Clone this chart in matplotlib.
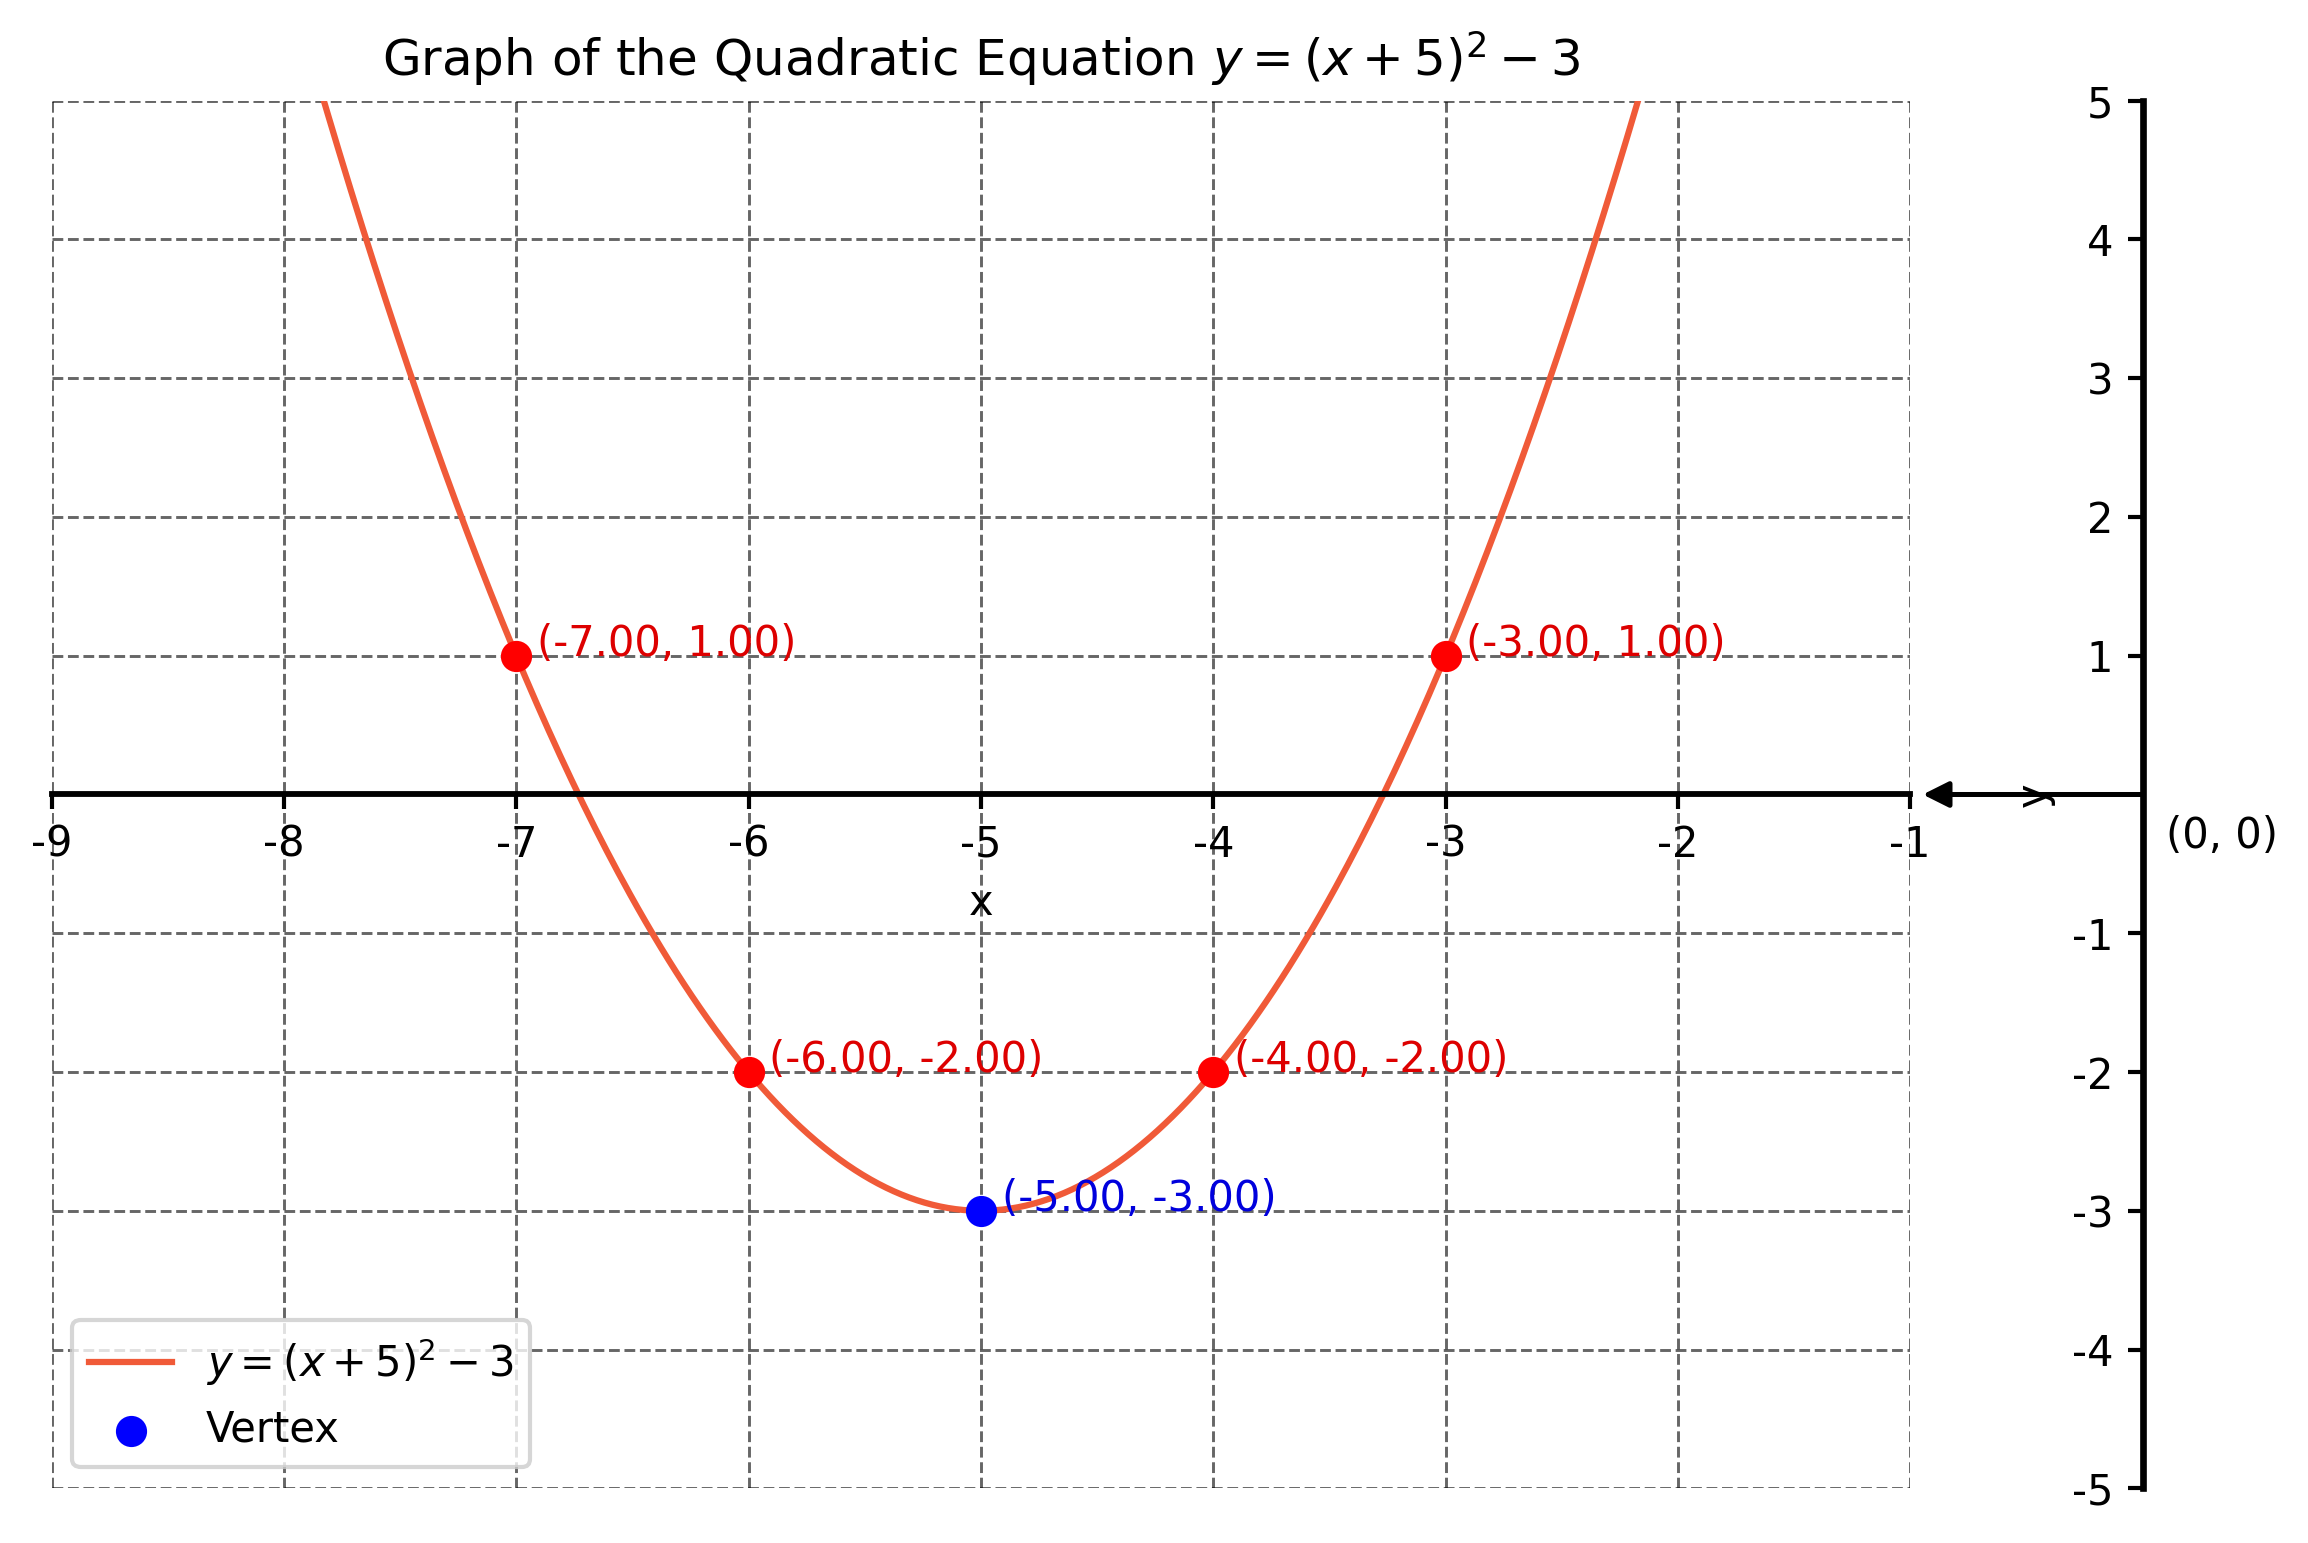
import numpy as np
import matplotlib
matplotlib.use("Agg")
import matplotlib.pyplot as plt
from matplotlib.patches import FancyArrowPatch

plt.rcParams['axes.unicode_minus'] = False

# Parabola y = (x - h)^2 + k
h, k = -5, -3
# Points marked on the curve
point_x = [-7, -6, -4, -3]
point_y = [1, -2, -2, 1]
vertex_x = [-5]
vertex_y = [-3]
x_ticks = [-9, -8, -7, -6, -5, -4, -3, -2, -1]
y_ticks = [-5, -4, -3, -2, -1, 1, 2, 3, 4, 5]

curve_color = '#F05A38'

fig = plt.figure(figsize=(2308 / 300, 1543 / 300), dpi=300)
ax = fig.add_axes([0.02236, 0.03545, 0.8053, 0.8993])

# The curve itself, drawn from the equation
xs = np.linspace(-10, 0, 600)
ax.plot(xs, (xs - h) ** 2 + k, color=curve_color, linewidth=1.5,
        label=r'$y = (x + 5)^2 - 3$', zorder=2)

# Red points with their coordinates
ax.plot(point_x, point_y, 'o', color='red', markersize=6.5, zorder=3)
for px, py in zip(point_x, point_y):
    ax.annotate(f'({px:.2f}, {py:.2f})', xy=(px, py), xytext=(5, 0),
                textcoords='offset points', color='#DD0000', fontsize=10)

# Vertex
ax.scatter(vertex_x, vertex_y, color='blue', s=42, zorder=4, label='Vertex')
ax.annotate(f'({vertex_x[0]:.2f}, {vertex_y[0]:.2f})', xy=(vertex_x[0], vertex_y[0]),
            xytext=(5, 0), textcoords='offset points', color='#0000DD', fontsize=10)

ax.set_xlim(-9, -1)
ax.set_ylim(-5, 5)
ax.set_xticks(x_ticks)
ax.set_yticks(y_ticks)

# Axes through the origin
ax.spines['left'].set_position('zero')
ax.spines['bottom'].set_position('zero')
ax.spines['right'].set_visible(False)
ax.spines['top'].set_visible(False)
ax.spines['left'].set_linewidth(1.6)
ax.spines['bottom'].set_linewidth(1.4)
ax.spines['left'].set_capstyle('projecting')
ax.tick_params(axis='both', labelsize=10, width=1.0)

# arrow from the origin back to the visible x range
arrow = FancyArrowPatch((0, 0), (-1, 0), arrowstyle='-|>', color='black', lw=1.2,
                        mutation_scale=13, shrinkA=0, shrinkB=3, clip_on=False)
ax.add_patch(arrow)
ax.text(0.1, -0.3, '(0, 0)', fontsize=10, va='center', ha='left', clip_on=False)

ax.set_xlabel('x', fontsize=10)
ax.set_ylabel('y', fontsize=10)
ax.set_title(r'Graph of the Quadratic Equation $y = (x + 5)^2 - 3$', fontsize=12)

ax.grid(True, linestyle='--', color='black', alpha=0.6, linewidth=0.7)
ax.legend(loc='lower left', fontsize=10)

fig.savefig('out.png', dpi=300)
